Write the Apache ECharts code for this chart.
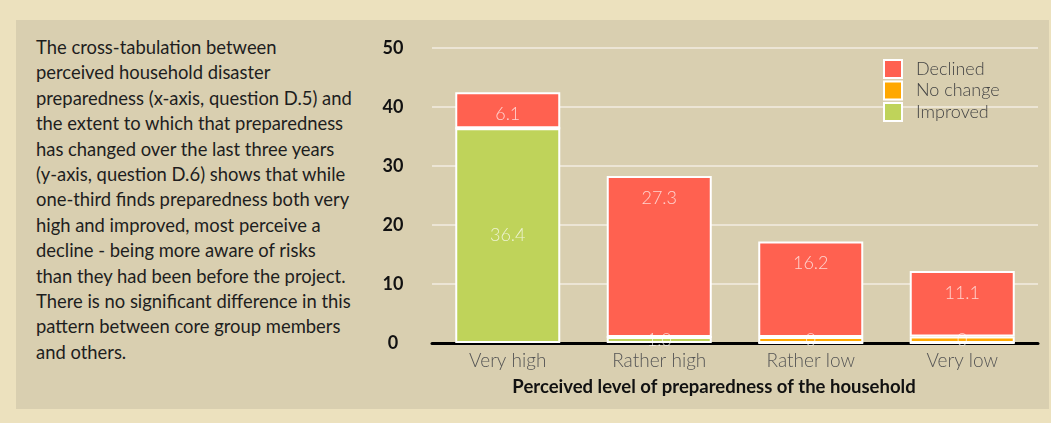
<!DOCTYPE html>
<html>
<head>
<meta charset="utf-8">
<script src="https://cdn.jsdelivr.net/npm/echarts@6/dist/echarts.min.js"></script>
<style>
  html, body { margin: 0; padding: 0; }
  body { width: 1051px; height: 423px; background: #ece1be; position: relative; overflow: hidden; font-family: Lato, sans-serif; }
  #panel { position: absolute; left: 16px; top: 20px; width: 1033px; height: 389px; background: #d9cfb0; }
  #note { position: absolute; left: 36px; top: 35px; font-size: 18.4px; line-height: 25.4px; color: #1e1e1e; white-space: nowrap; }
  #main { position: absolute; left: 0; top: 0; width: 1051px; height: 423px; }
</style>
</head>
<body>
<div id="panel"></div>
<div id="note">The cross-tabulation between<br>perceived household disaster<br>preparedness (x-axis, question D.5) and<br>the extent to which that preparedness<br>has changed over the last three years<br>(y-axis, question D.6) shows that while<br>one-third finds preparedness both very<br>high and improved, most perceive a<br>decline - being more aware of risks<br>than they had been before the project.<br>There is no significant difference in this<br>pattern between core group members<br>and others.</div>
<div id="main"></div>
<script>
  var categories = ['Very high', 'Rather high', 'Rather low', 'Very low'];
  var improved = [36.4, 1.0, 0, 0];
  var noChange = [0, 0, 1.0, 1.1];
  var declined = [6.1, 27.3, 16.2, 11.1];
  // label texts as printed in the source
  var improvedLabels = ['36.4', '1.0', '', ''];
  var noChangeLabels = ['', '', '0', '0'];
  var declinedLabels = ['6.1', '27.3', '16.2', '11.1'];
  var yTicks = [0, 10, 20, 30, 40, 50];

  var myChart = echarts.init(document.getElementById('main'));

  var barLabel = {
    show: true,
    color: 'rgba(255,255,255,0.72)',
    fontFamily: 'Lato',
    fontWeight: 300,
    fontSize: 18
  };

  function makeSeries(name, data, labels, color, pos) {
    return {
      name: name,
      type: 'bar',
      stack: 'total',
      barWidth: 105,
      data: data,
      itemStyle: { color: color, borderColor: '#ffffff', borderWidth: 2 },
      label: Object.assign({}, barLabel, {
        position: pos,
        distance: 13,
        formatter: function(p) { return labels[p.dataIndex]; }
      }),
      emphasis: { disabled: true }
    };
  }

  var option = {
    animation: false,
    grid: { left: 432, right: 13, top: 48, bottom: 80 },
    legend: {
      orient: 'vertical',
      left: 883,
      top: 59,
      padding: 0,
      itemWidth: 18,
      itemHeight: 18,
      itemGap: 1.5,
      icon: 'rect',
      data: ['Declined', 'No change', 'Improved'],
      textStyle: { color: '#444', fontFamily: 'Lato', fontWeight: 300, fontSize: 18, lineHeight: 18, padding: [0, 0, 0, 9] }
    },
    xAxis: {
      type: 'category',
      data: categories,
      name: 'Perceived level of preparedness of the household',
      nameLocation: 'middle',
      nameGap: 35,
      nameTextStyle: { color: '#111', fontFamily: 'Lato', fontWeight: 'bold', fontSize: 18.5, padding: [0, 42, 0, 0] },
      axisLine: { lineStyle: { color: '#000', width: 3 } },
      axisTick: { show: false },
      axisLabel: { color: '#555', fontFamily: 'Lato', fontWeight: 300, fontSize: 19, margin: 8 }
    },
    yAxis: {
      type: 'value',
      min: yTicks[0],
      max: yTicks[yTicks.length - 1],
      interval: 10,
      axisLine: { show: false },
      axisTick: { show: false },
      splitLine: { lineStyle: { color: '#f2ede2', width: 1.5 } },
      axisLabel: { color: '#111', fontFamily: 'Lato', fontWeight: 'bold', fontSize: 18, align: 'center', margin: 39 }
    },
    series: [
      makeSeries('Improved', improved, improvedLabels, '#bfd35a', 'inside'),
      makeSeries('No change', noChange, noChangeLabels, '#ffa800', 'inside'),
      makeSeries('Declined', declined, declinedLabels, '#ff6150', 'insideTop')
    ]
  };

  myChart.setOption(option);
</script>
</body>
</html>
